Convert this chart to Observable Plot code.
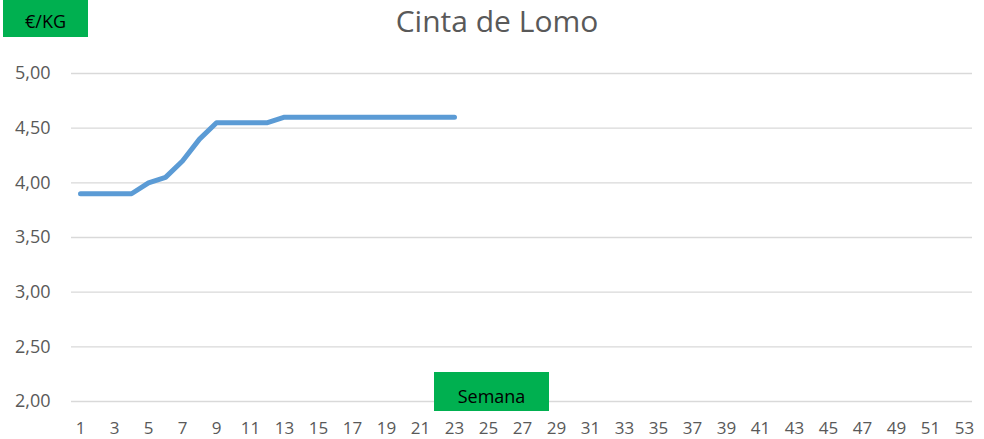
<!DOCTYPE html>
<html>
<head>
<meta charset="utf-8">
<script src="https://cdn.jsdelivr.net/npm/d3@7"></script>
<script src="https://cdn.jsdelivr.net/npm/@observablehq/plot@0.6"></script>
<style>
  html, body { margin: 0; padding: 0; background: #fff; }
  #wrap { position: relative; width: 984px; height: 439px; font-family: "Open Sans", sans-serif; }
  .box { position: absolute; background: #00B050; color: #000; font-size: 18px; display: flex; align-items: center; justify-content: center; }
  #title { position: absolute; left: 0; width: 994px; top: 0px; text-align: center; font-size: 30px; color: #595959; }
</style>
</head>
<body>
<div id="wrap">
  <div id="chart"></div>
  <div id="title">Cinta de Lomo</div>
  <div class="box" style="left:3px; top:0px; width:85px; height:37px; padding-top:4px; box-sizing:border-box;">€/KG</div>
  <div class="box" style="left:434px; top:372px; width:115px; height:39px; padding-top:8px; box-sizing:border-box;">Semana</div>
</div>
<script>
const weeks = d3.range(1, 54);
const dataWeeks = [1,2,3,4,5,6,7,8,9,10,11,12,13,14,15,16,17,18,19,20,21,22,23];
const prices = [3.90,3.90,3.90,3.90,4.00,4.05,4.20,4.40,4.55,4.55,4.55,4.55,4.60,4.60,4.60,4.60,4.60,4.60,4.60,4.60,4.60,4.60,4.60];
const yTicks = [2.0, 2.5, 3.0, 3.5, 4.0, 4.5, 5.0];
const xTicks = weeks.filter(w => w % 2 === 1);

const data = dataWeeks.map((w, i) => ({week: w, price: prices[i]}));

const chart = Plot.plot({
  width: 984,
  height: 439,
  marginLeft: 71,
  marginRight: 12,
  marginTop: 73,
  marginBottom: 38,
  style: { fontFamily: "Open Sans, sans-serif", fontSize: "18px", color: "#595959", background: "#fff" },
  x: { type: "point", domain: weeks, padding: 0.5, label: null },
  y: { domain: [2, 5], label: null },
  marks: [
    Plot.ruleY(yTicks, { stroke: "#d9d9d9", strokeWidth: 1.3 }),
    Plot.axisY({ ticks: yTicks, tickSize: 0, tickPadding: 21, tickFormat: d => d.toFixed(2).replace(".", ","), fill: "#595959", fontSize: 18, label: null }),
    Plot.axisX({ ticks: xTicks, tickSize: 0, tickPadding: 20, fill: "#595959", fontSize: 17, label: null }),
    Plot.line(data, { x: "week", y: "price", stroke: "#5B9BD5", strokeWidth: 5, strokeLinecap: "round", strokeLinejoin: "round" })
  ]
});
document.getElementById("chart").appendChild(chart);
</script>
</body>
</html>
